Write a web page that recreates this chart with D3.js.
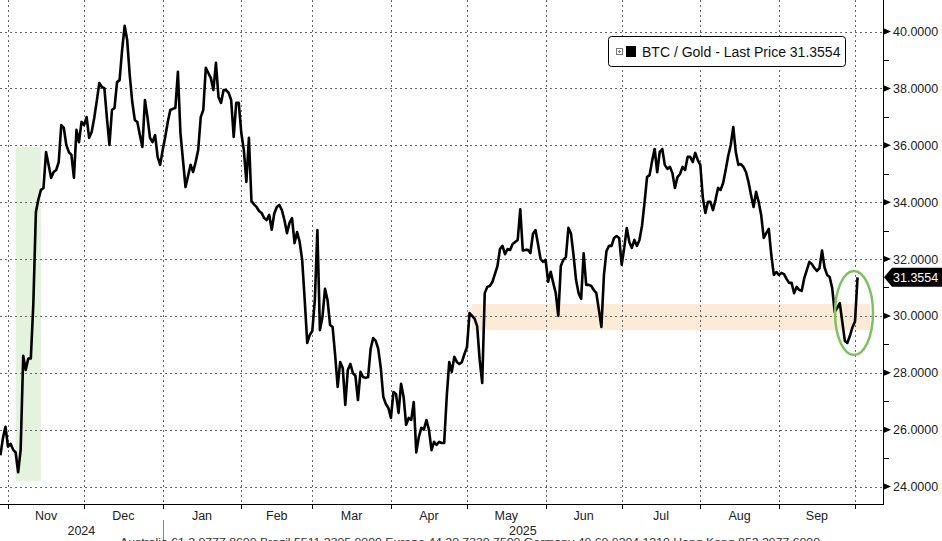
<!DOCTYPE html>
<html lang="en">
<head>
<meta charset="utf-8">
<script src="https://cdn.jsdelivr.net/npm/d3@7/dist/d3.min.js"></script>
<title>BTC / Gold</title>
<style>
  body { margin: 0; background: #fff; }
  svg { display: block; font-family: "Liberation Sans", Arial, sans-serif; }
</style>
</head>
<body>
<script>
// BTC / Gold ratio, one value per calendar day
var dates = [
  "2024-10-29","2024-10-30","2024-10-31","2024-11-01","2024-11-02","2024-11-03","2024-11-04","2024-11-05","2024-11-06","2024-11-07",
  "2024-11-08","2024-11-09","2024-11-10","2024-11-11","2024-11-12","2024-11-13","2024-11-14","2024-11-15","2024-11-16","2024-11-17",
  "2024-11-18","2024-11-19","2024-11-20","2024-11-21","2024-11-22","2024-11-23","2024-11-24","2024-11-25","2024-11-26","2024-11-27",
  "2024-11-28","2024-11-29","2024-11-30","2024-12-01","2024-12-02","2024-12-03","2024-12-04","2024-12-05","2024-12-06","2024-12-07",
  "2024-12-08","2024-12-09","2024-12-10","2024-12-11","2024-12-12","2024-12-13","2024-12-14","2024-12-15","2024-12-16","2024-12-17",
  "2024-12-18","2024-12-19","2024-12-20","2024-12-21","2024-12-22","2024-12-23","2024-12-24","2024-12-25","2024-12-26","2024-12-27",
  "2024-12-28","2024-12-29","2024-12-30","2024-12-31","2025-01-01","2025-01-02","2025-01-03","2025-01-04","2025-01-05","2025-01-06",
  "2025-01-07","2025-01-08","2025-01-09","2025-01-10","2025-01-11","2025-01-12","2025-01-13","2025-01-14","2025-01-15","2025-01-16",
  "2025-01-17","2025-01-18","2025-01-19","2025-01-20","2025-01-21","2025-01-22","2025-01-23","2025-01-24","2025-01-25","2025-01-26",
  "2025-01-27","2025-01-28","2025-01-29","2025-01-30","2025-01-31","2025-02-01","2025-02-02","2025-02-03","2025-02-04","2025-02-05",
  "2025-02-06","2025-02-07","2025-02-08","2025-02-09","2025-02-10","2025-02-11","2025-02-12","2025-02-13","2025-02-14","2025-02-15",
  "2025-02-16","2025-02-17","2025-02-18","2025-02-19","2025-02-20","2025-02-21","2025-02-22","2025-02-23","2025-02-24","2025-02-25",
  "2025-02-26","2025-02-27","2025-02-28","2025-03-01","2025-03-02","2025-03-03","2025-03-04","2025-03-05","2025-03-06","2025-03-07",
  "2025-03-08","2025-03-09","2025-03-10","2025-03-11","2025-03-12","2025-03-13","2025-03-14","2025-03-15","2025-03-16","2025-03-17",
  "2025-03-18","2025-03-19","2025-03-20","2025-03-21","2025-03-22","2025-03-23","2025-03-24","2025-03-25","2025-03-26","2025-03-27",
  "2025-03-28","2025-03-29","2025-03-30","2025-03-31","2025-04-01","2025-04-02","2025-04-03","2025-04-04","2025-04-05","2025-04-06",
  "2025-04-07","2025-04-08","2025-04-09","2025-04-10","2025-04-11","2025-04-12","2025-04-13","2025-04-14","2025-04-15","2025-04-16",
  "2025-04-17","2025-04-18","2025-04-19","2025-04-20","2025-04-21","2025-04-22","2025-04-23","2025-04-24","2025-04-25","2025-04-26",
  "2025-04-27","2025-04-28","2025-04-29","2025-04-30","2025-05-01","2025-05-02","2025-05-03","2025-05-04","2025-05-05","2025-05-06",
  "2025-05-07","2025-05-08","2025-05-09","2025-05-10","2025-05-11","2025-05-12","2025-05-13","2025-05-14","2025-05-15","2025-05-16",
  "2025-05-17","2025-05-18","2025-05-19","2025-05-20","2025-05-21","2025-05-22","2025-05-23","2025-05-24","2025-05-25","2025-05-26",
  "2025-05-27","2025-05-28","2025-05-29","2025-05-30","2025-05-31","2025-06-01","2025-06-02","2025-06-03","2025-06-04","2025-06-05",
  "2025-06-06","2025-06-07","2025-06-08","2025-06-09","2025-06-10","2025-06-11","2025-06-12","2025-06-13","2025-06-14","2025-06-15",
  "2025-06-16","2025-06-17","2025-06-18","2025-06-19","2025-06-20","2025-06-21","2025-06-22","2025-06-23","2025-06-24","2025-06-25",
  "2025-06-26","2025-06-27","2025-06-28","2025-06-29","2025-06-30","2025-07-01","2025-07-02","2025-07-03","2025-07-04","2025-07-05",
  "2025-07-06","2025-07-07","2025-07-08","2025-07-09","2025-07-10","2025-07-11","2025-07-12","2025-07-13","2025-07-14","2025-07-15",
  "2025-07-16","2025-07-17","2025-07-18","2025-07-19","2025-07-20","2025-07-21","2025-07-22","2025-07-23","2025-07-24","2025-07-25",
  "2025-07-26","2025-07-27","2025-07-28","2025-07-29","2025-07-30","2025-07-31","2025-08-01","2025-08-02","2025-08-03","2025-08-04",
  "2025-08-05","2025-08-06","2025-08-07","2025-08-08","2025-08-09","2025-08-10","2025-08-11","2025-08-12","2025-08-13","2025-08-14",
  "2025-08-15","2025-08-16","2025-08-17","2025-08-18","2025-08-19","2025-08-20","2025-08-21","2025-08-22","2025-08-23","2025-08-24",
  "2025-08-25","2025-08-26","2025-08-27","2025-08-28","2025-08-29","2025-08-30","2025-08-31","2025-09-01","2025-09-02","2025-09-03",
  "2025-09-04","2025-09-05","2025-09-06","2025-09-07","2025-09-08","2025-09-09","2025-09-10","2025-09-11","2025-09-12","2025-09-13",
  "2025-09-14","2025-09-15","2025-09-16","2025-09-17","2025-09-18","2025-09-19","2025-09-20","2025-09-21","2025-09-22","2025-09-23",
  "2025-09-24","2025-09-25","2025-09-26","2025-09-27","2025-09-28","2025-09-29","2025-09-30","2025-10-01","2025-10-02"
];
var values = [
  25.1,25.7,26.1,25.4,25.5,25.3,25.2,24.5,25.3,28.6,
  28.1,28.5,28.5,30.45,33.65,34.1,34.43,34.5,35.76,35.31,
  34.85,35.06,35.13,35.41,36.71,36.61,36.01,35.76,35.66,34.85,
  36.54,36.11,36.82,36.71,36.99,36.26,36.47,36.96,37.55,38.19,
  38.05,38.01,36.96,36.01,37.24,37.31,38.22,38.29,39.35,40.2,
  39.7,38.47,37.52,36.89,36.82,36.36,35.94,37.59,36.99,36.26,
  36.11,36.36,35.59,35.31,35.83,36.29,36.82,37.24,37.28,37.31,
  38.58,36.43,35.48,34.53,34.92,35.31,35.06,35.41,35.83,36.99,
  37.24,38.72,38.54,38.36,37.94,38.9,37.7,37.49,37.94,37.94,
  37.84,37.59,36.29,37.49,37.49,36.43,35.83,34.71,36.26,34.04,
  33.92,33.83,33.69,33.62,33.44,33.37,33.55,33.03,33.6,33.83,
  33.9,33.72,33.37,32.91,33.27,33.44,32.56,32.95,32.6,31.97,
  30.56,29.05,29.33,29.47,30.56,33.02,29.5,29.96,30.95,30.56,
  29.68,29.61,28.63,27.5,28.38,28.17,26.87,28.1,28.31,27.99,
  27.89,27.04,28.03,27.85,27.82,27.85,28.84,29.22,29.12,28.84,
  28.17,27.15,26.9,26.76,26.41,27.32,27.25,26.59,27.61,27.15,
  26.17,26.41,26.34,26.97,25.2,25.74,26.06,26.0,26.34,25.99,
  25.28,25.57,25.46,25.57,25.53,25.53,27.15,28.38,28.03,28.56,
  28.38,28.31,28.38,28.66,28.9,30.1,30.0,29.9,29.64,28.45,
  27.64,30.8,31.02,31.05,31.19,31.47,31.75,32.35,32.46,32.17,
  32.35,32.32,32.53,32.6,32.67,33.75,32.3,32.32,32.32,32.21,
  32.88,33.02,32.53,32.0,31.9,31.97,31.2,31.55,31.16,30.8,
  30.0,31.75,31.97,32.07,33.1,32.9,32.14,31.26,30.8,30.6,
  32.2,31.09,31.09,31.05,30.91,30.8,30.21,29.61,31.44,32.28,
  32.46,32.46,32.74,32.81,32.74,31.8,32.39,33.09,32.6,32.39,
  32.67,32.46,32.67,33.16,33.97,34.88,34.95,35.45,35.87,35.05,
  35.76,35.87,35.31,35.17,35.24,35.02,34.5,34.88,34.99,35.24,
  35.13,35.59,35.59,35.41,35.73,35.48,35.31,34.15,33.62,34.01,
  34.01,33.72,34.08,34.5,34.43,34.67,35.13,35.62,36.01,36.64,
  35.76,35.31,35.34,35.24,35.06,34.71,34.25,33.83,34.36,34.01,
  33.55,32.74,32.91,33.06,32.14,31.44,31.54,31.44,31.51,31.47,
  31.3,31.16,31.16,30.8,31.02,30.91,30.88,31.33,31.61,31.9,
  31.82,31.68,31.58,31.68,32.3,31.7,31.44,31.37,30.98,30.14,
  30.28,30.45,29.78,29.12,29.05,29.3,29.6,29.8,31.3554
];
var lastPrice = "31.3554";
var seriesName = "BTC / Gold - Last Price ";

// axis labels
var yTicks = [24, 26, 28, 30, 32, 34, 36, 38, 40];
var yMinorTicks = [25, 27, 29, 31, 33, 35, 37, 39];
var monthLabels = ["Nov", "Dec", "Jan", "Feb", "Mar", "Apr", "May", "Jun", "Jul", "Aug", "Sep"];
var yearLabels = ["2024", "2025"];
var footer = "Australia 61 2 9777 8600 Brazil 5511 2395 9000 Europe 44 20 7330 7500 Germany 49 69 9204 1210 Hong Kong 852 2977 6000";

// highlighted zones (dates and ratio levels)
var electionZone = ["2024-11-04", "2024-11-14", 24.2, 35.95];
var supportBand = ["2025-05-03", "2025-10-07", 29.5, 30.42];
var circleAt = ["2025-10-01", 30.1];

var w = 942, h = 541;
var plotRight = 883, plotBottom = 504;
var parse = d3.timeParse("%Y-%m-%d");

var data = dates.map(function(d, i) { return { date: parse(d), value: values[i] }; });

var svg = d3.select("body").append("svg")
  .attr("width", w)
  .attr("height", h);

// scales
var x = d3.scaleTime()
  .domain([parse("2024-11-01"), parse("2025-10-01")])
  .range([8, 855]);
var y = d3.scaleLinear()
  .domain([24, 40])
  .range([486.5, 31.5]);

svg.append("clipPath").attr("id", "plot")
  .append("rect").attr("x", 0).attr("y", 0).attr("width", plotRight).attr("height", plotBottom);

// shaded zones
svg.append("rect")
  .attr("x", x(parse(electionZone[0])))
  .attr("y", y(electionZone[3]))
  .attr("width", x(parse(electionZone[1])) - x(parse(electionZone[0])))
  .attr("height", y(electionZone[2]) - y(electionZone[3]))
  .attr("fill", "#e3f3dd");
svg.append("rect")
  .attr("x", x(parse(supportBand[0])))
  .attr("y", y(supportBand[3]))
  .attr("width", x(parse(supportBand[1])) - x(parse(supportBand[0])))
  .attr("height", y(supportBand[2]) - y(supportBand[3]))
  .attr("fill", "#fdebd8");

// grid
var months = d3.timeMonth.range(parse("2024-11-01"), parse("2025-10-02"));
svg.append("g").selectAll("line").data(yTicks).enter().append("line")
  .attr("x1", 0).attr("x2", plotRight)
  .attr("y1", function(d) { return Math.round(y(d)) + 0.5; })
  .attr("y2", function(d) { return Math.round(y(d)) + 0.5; })
  .attr("stroke", "#666").attr("stroke-dasharray", "2,3");
svg.append("g").selectAll("line").data(months).enter().append("line")
  .attr("x1", function(d) { return Math.round(x(d)) + 0.5; })
  .attr("x2", function(d) { return Math.round(x(d)) + 0.5; })
  .attr("y1", 0).attr("y2", plotBottom)
  .attr("stroke", "#666").attr("stroke-dasharray", "2,3");

// series line
var line = d3.line()
  .x(function(d) { return x(d.date); })
  .y(function(d) { return y(d.value); });
svg.append("path")
  .datum(data)
  .attr("clip-path", "url(#plot)")
  .attr("d", line)
  .attr("fill", "none")
  .attr("stroke", "#000")
  .attr("stroke-width", 2.6)
  .attr("stroke-linejoin", "round");

// green circle round the last move
svg.append("ellipse")
  .attr("cx", x(parse(circleAt[0])) - 1)
  .attr("cy", y(circleAt[1]))
  .attr("rx", 19).attr("ry", 42)
  .attr("fill", "none")
  .attr("stroke", "#7cc35c")
  .attr("stroke-width", 2.5);

// right axis
svg.append("line")
  .attr("x1", plotRight + 0.5).attr("x2", plotRight + 0.5)
  .attr("y1", 0).attr("y2", plotBottom)
  .attr("stroke", "#000");
svg.append("g").selectAll("path").data(yTicks).enter().append("path")
  .attr("d", function(d) { var p = y(d); return "M" + plotRight + "," + (p - 3.5) + "L" + (plotRight + 8) + "," + p + "L" + plotRight + "," + (p + 3.5) + "Z"; })
  .attr("fill", "#000");
svg.append("g").selectAll("line").data(yMinorTicks).enter().append("line")
  .attr("x1", plotRight).attr("x2", plotRight + 6)
  .attr("y1", function(d) { return Math.round(y(d)) + 0.5; })
  .attr("y2", function(d) { return Math.round(y(d)) + 0.5; })
  .attr("stroke", "#000");
svg.append("g").selectAll("text").data(yTicks).enter().append("text")
  .attr("x", plotRight + 10)
  .attr("y", function(d) { return y(d) + 4.5; })
  .style("font-size", "12.5px")
  .attr("fill", "#222")
  .text(function(d) { return d3.format(".4f")(d); });

// last price tag
var ly = y(+lastPrice);
svg.append("path")
  .attr("d", "M" + (plotRight + 1) + "," + ly + "L" + (plotRight + 9) + "," + (ly - 9.5) + "L" + w + "," + (ly - 9.5) + "L" + w + "," + (ly + 9.5) + "L" + (plotRight + 9) + "," + (ly + 9.5) + "Z")
  .attr("fill", "#000");
svg.append("text")
  .attr("x", plotRight + 10)
  .attr("y", ly + 4.5)
  .style("font-size", "12.5px")
  .attr("fill", "#fff")
  .text(lastPrice);

// bottom axis
svg.append("line")
  .attr("x1", 0).attr("x2", plotRight + 1)
  .attr("y1", plotBottom + 0.5).attr("y2", plotBottom + 0.5)
  .attr("stroke", "#000");
svg.append("g").selectAll("line").data(months).enter().append("line")
  .attr("x1", function(d) { return Math.round(x(d)) + 0.5; })
  .attr("x2", function(d) { return Math.round(x(d)) + 0.5; })
  .attr("y1", plotBottom).attr("y2", plotBottom + 5)
  .attr("stroke", "#000");
svg.append("g").selectAll("text").data(monthLabels).enter().append("text")
  .attr("x", function(d, i) { return (x(months[i]) + x(months[i + 1])) / 2; })
  .attr("y", 520)
  .attr("text-anchor", "middle")
  .style("font-size", "12.5px")
  .attr("fill", "#222")
  .text(function(d) { return d; });

var yearSplit = x(parse("2025-01-01"));
svg.append("line")
  .attr("x1", Math.round(yearSplit) + 0.5).attr("x2", Math.round(yearSplit) + 0.5)
  .attr("y1", 520).attr("y2", h)
  .attr("stroke", "#888");
svg.append("g").selectAll("text").data(yearLabels).enter().append("text")
  .attr("x", function(d, i) { return i === 0 ? yearSplit / 2 : (yearSplit + plotRight) / 2; })
  .attr("y", 535)
  .attr("text-anchor", "middle")
  .style("font-size", "12.5px")
  .attr("fill", "#222")
  .text(function(d) { return d; });

svg.append("text")
  .attr("x", 120).attr("y", 546)
  .attr("textLength", 700)
  .attr("lengthAdjust", "spacingAndGlyphs")
  .style("font-size", "11px")
  .attr("fill", "#333")
  .text(footer);

// legend
var legend = svg.append("g").attr("transform", "translate(608,36)");
legend.append("rect")
  .attr("x", 0.5).attr("y", 0.5).attr("width", 237).attr("height", 30).attr("rx", 3)
  .attr("fill", "#fff").attr("stroke", "#000");
legend.append("rect")
  .attr("x", 8.5).attr("y", 12.5).attr("width", 6).attr("height", 6)
  .attr("fill", "none").attr("stroke", "#777");
legend.append("path")
  .attr("d", "M10,15.5H13M11.5,14V17")
  .attr("stroke", "#777");
legend.append("rect")
  .attr("x", 18).attr("y", 10).attr("width", 10).attr("height", 11)
  .attr("fill", "#000");
legend.append("text")
  .attr("x", 34).attr("y", 21)
  .style("font-size", "14px")
  .attr("fill", "#111")
  .text(seriesName + lastPrice);
</script>
</body>
</html>
